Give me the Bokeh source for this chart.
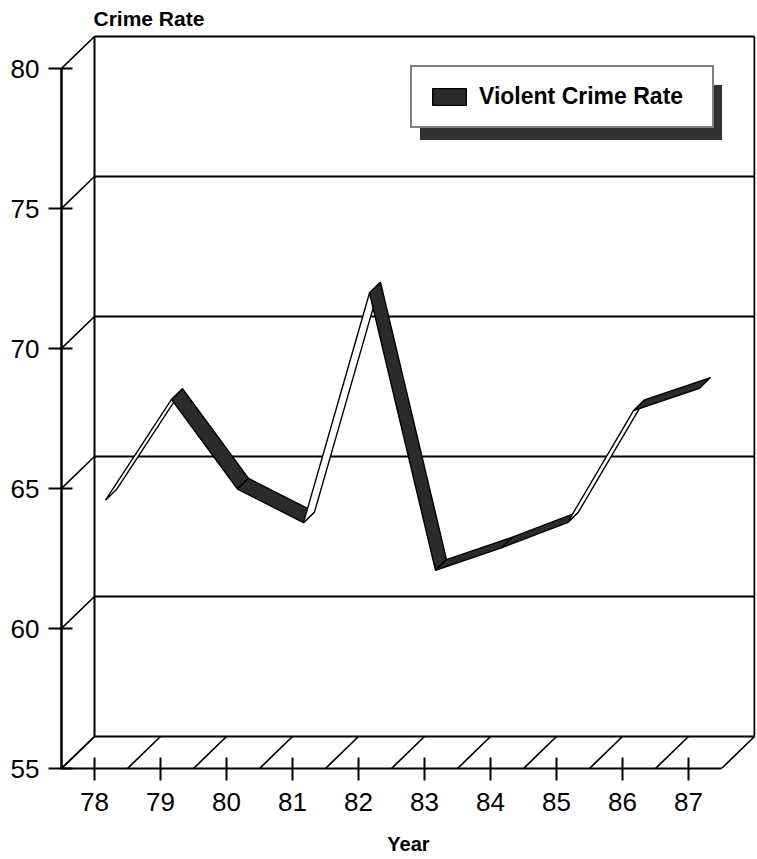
from bokeh.plotting import figure
from bokeh.models import Range1d, FixedTicker, Legend, LegendItem, ColumnDataSource
from bokeh.embed import file_html
from bokeh.resources import INLINE

# ---------------- data ----------------
years = [78, 79, 80, 81, 82, 83, 84, 85, 86, 87]
crime_rate = [64.2, 67.8, 64.6, 63.4, 71.6, 61.7, 62.5, 63.4, 67.4, 68.2]
y_ticks = [55, 60, 65, 70, 75, 80]
year_labels = ["78", "79", "80", "81", "82", "83", "84", "85", "86", "87"]
series_name = "Violent Crime Rate"
y_title = "Crime Rate"
x_title = "Year"

# ---------------- layout / style constants ----------------
PX_PER_YEAR = 66.0
PX_PER_UNIT = 28.0
DX = 0.5                      # depth of the box, in years
DY = 32.0 / PX_PER_UNIT       # depth of the box, in rate units
FRAME_W = 694
FRAME_H = 734
FONT = "Liberation Sans"
DARK = "#2b2b2b"
SHADOW = "#303030"

X0 = years[0] - 0.5
X1 = years[-1] + 0.5
Y0, Y1 = y_ticks[0], y_ticks[-1]

p = figure(frame_width=FRAME_W, frame_height=FRAME_H,
           x_range=Range1d(X0, X0 + FRAME_W / PX_PER_YEAR),
           y_range=Range1d(Y0, Y0 + FRAME_H / PX_PER_UNIT),
           output_backend="svg", toolbar_location=None, title=y_title,
           min_border_left=61, min_border_right=1, min_border_top=34,
           min_border_bottom=90)
p.outline_line_color = None
p.xgrid.visible = False
p.ygrid.visible = False
p.background_fill_color = "white"
p.border_fill_color = "white"

p.title.align = "left"
p.title.offset = 32
p.title.standoff = 9
p.title.text_font = FONT
p.title.text_font_size = "21px"
p.title.text_font_style = "bold"
p.title.text_color = "black"

# ---------------- 3-D box: back wall, side diagonals, floor ----------------
bx0, bx1 = X0 + DX, X1 + DX
# back wall horizontal lines (floor back edge, gridlines, top edge)
p.segment(x0=[bx0] * len(y_ticks), y0=[v + DY for v in y_ticks],
          x1=[bx1] * len(y_ticks), y1=[v + DY for v in y_ticks],
          line_color="black", line_width=2)
# back wall vertical edges
p.segment(x0=[bx0, bx1], y0=[Y0 + DY, Y0 + DY], x1=[bx0, bx1], y1=[Y1 + DY, Y1 + DY],
          line_color="black", line_width=2)
# left side diagonals from the front axis ticks to the back wall
p.segment(x0=[X0] * len(y_ticks), y0=y_ticks,
          x1=[bx0] * len(y_ticks), y1=[v + DY for v in y_ticks],
          line_color="black", line_width=1.7)
# floor diagonals
edges = [y - 0.5 for y in years] + [years[-1] + 0.5]
p.segment(x0=edges, y0=[Y0] * len(edges), x1=[e + DX for e in edges],
          y1=[Y0 + DY] * len(edges), line_color="black", line_width=1.7)

# ---------------- ribbon line ----------------
fx = [y + DX / 3 for y in years]
fy = [v + DY / 3 for v in crime_rate]
bxs = [y + 2 * DX / 3 for y in years]
bys = [v + 2 * DY / 3 for v in crime_rate]
xs, ys, fills = [], [], []
for i in range(len(years) - 1):
    xs.append([fx[i], fx[i + 1], bxs[i + 1], bxs[i]])
    ys.append([fy[i], fy[i + 1], bys[i + 1], bys[i]])
    slope = (crime_rate[i + 1] - crime_rate[i]) / (years[i + 1] - years[i])
    fills.append(DARK if slope < DY / DX else "white")
src = ColumnDataSource(dict(xs=xs, ys=ys, fill=fills))
rib = p.patches(xs="xs", ys="ys", fill_color="fill", line_color="black",
                line_width=1.4, source=src)
i_dark = fills.index(DARK)

# ---------------- axes ----------------
xa = p.xaxis[0]
xa.ticker = FixedTicker(ticks=years)
xa.major_label_overrides = {y: l for y, l in zip(years, year_labels)}
xa.bounds = (X0, X1)
xa.axis_line_width = 2
xa.major_tick_line_width = 2
xa.major_tick_in = 11
xa.major_tick_out = 12
xa.minor_tick_line_color = None
xa.major_label_text_font = FONT
xa.major_label_text_font_size = "26px"
xa.major_label_text_color = "black"
xa.major_label_standoff = 12
xa.axis_label = x_title
xa.axis_label_text_font = FONT
xa.axis_label_text_font_size = "20px"
xa.axis_label_text_font_style = "bold"
xa.axis_label_text_color = "black"
xa.axis_label_standoff = 19

ya = p.yaxis[0]
ya.ticker = FixedTicker(ticks=y_ticks)
ya.bounds = (Y0, Y1)
ya.axis_line_width = 2.5
ya.major_tick_line_width = 2
ya.major_tick_in = 11
ya.major_tick_out = 13
ya.minor_tick_line_color = None
ya.major_label_text_font = FONT
ya.major_label_text_font_size = "26px"
ya.major_label_text_color = "black"
ya.major_label_standoff = 9

# ---------------- legend with drop shadow ----------------
common = dict(padding=16, glyph_width=42, glyph_height=21, label_standoff=9,
              label_width=217, label_text_font=FONT, label_text_font_size="23px",
              label_text_font_style="bold", spacing=0, margin=0)
shadow = Legend(items=[LegendItem(label=" ", renderers=[rib], index=i_dark)],
                location=(359, 628), background_fill_color=SHADOW,
                background_fill_alpha=1, border_line_color=SHADOW,
                label_text_color=SHADOW, **common)
legend = Legend(items=[LegendItem(label=series_name, renderers=[rib], index=i_dark)],
                location=(349, 640), background_fill_color="white",
                background_fill_alpha=1, border_line_color="black",
                border_line_width=2, label_text_color="black", **common)
p.add_layout(shadow)
p.add_layout(legend)

open("out.html", "w").write(file_html(p, INLINE))
